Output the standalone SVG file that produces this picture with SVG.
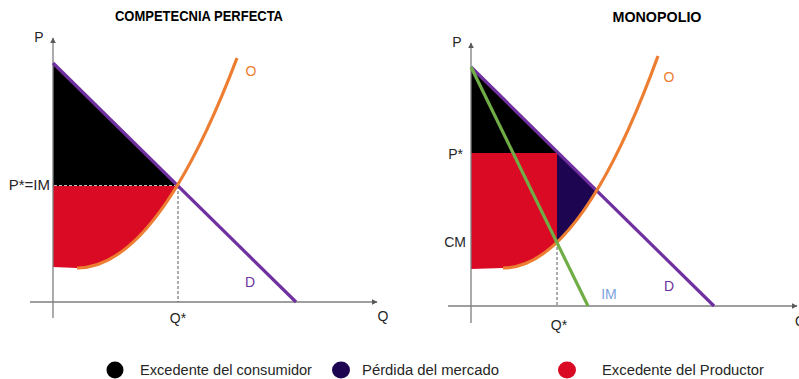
<svg xmlns="http://www.w3.org/2000/svg" width="799" height="379" viewBox="0 0 799 379">
<style>
text{font-family:"Liberation Sans",Arial,sans-serif;fill:#262626;font-size:14px}
.title{font-weight:bold;font-size:14px;fill:#000}
.axis{stroke:#7F7F7F;stroke-width:1.3;fill:none}
.dem{stroke:#7030A0;stroke-width:3.2;fill:none;stroke-linecap:butt}
.sup{stroke:#ED7D31;stroke-width:3.2;fill:none}
.img{stroke:#70AD47;stroke-width:3.2;fill:none}
.cs{fill:#000}
.ps{fill:#DA0A25}
.dw{fill:#1E0552}
.dash{stroke:#595959;stroke-width:1;stroke-dasharray:3 2;fill:none}
.dashl{stroke:#BFBFBF;stroke-width:1;stroke-dasharray:3 2;fill:none}
</style>
<defs>
<marker id="arr" viewBox="0 0 10 10" refX="9" refY="5" markerWidth="6" markerHeight="6" orient="auto" markerUnits="userSpaceOnUse">
<path d="M0,0 L10,5 L0,10 Z" fill="#595959"/>
</marker>
</defs>
<rect width="799" height="379" fill="#fff"/>

<g id="left-chart">
<text class="title" x="199" y="21" text-anchor="middle" textLength="168" lengthAdjust="spacingAndGlyphs">COMPETECNIA PERFECTA</text>
<g id="left-areas">
<path class="cs" d="M53,63 L178,186 L53,186 Z"/>
<path class="ps" d="M53,186 L53,267 L77,268 Q127.5,268 178,186 Z"/>
</g>
<g id="left-axes">
<line class="axis" x1="53" y1="318" x2="53" y2="38" marker-end="url(#arr)"/>
<line class="axis" x1="30" y1="302" x2="377" y2="302" marker-end="url(#arr)"/>
</g>
<g id="left-connectors">
<line class="dashl" x1="54" y1="185.5" x2="178" y2="185.5"/>
<line class="dash" x1="178" y1="186" x2="178" y2="302"/>
<path id="left-demand" class="dem" d="M53,63 L296,302"/>
<path id="left-supply" class="sup" d="M77,268 Q157,268 237,58"/>
</g>
<g id="left-labels">
<text x="39" y="42" text-anchor="middle">P</text>
<text x="50" y="190" text-anchor="end" style="font-size:15px">P*=IM</text>
<text x="178" y="323" text-anchor="middle">Q*</text>
<text x="383" y="321" text-anchor="middle">Q</text>
<text x="251" y="76" text-anchor="middle" style="fill:#ED7D31">O</text>
<text x="250" y="287" text-anchor="middle" style="fill:#7030A0">D</text>
</g>
</g>

<g id="right-chart">
<text class="title" x="657" y="22" text-anchor="middle" textLength="89" lengthAdjust="spacingAndGlyphs">MONOPOLIO</text>
<g id="right-areas">
<path class="cs" d="M471,67 L557,152 L557,153 L471,153 Z"/>
<path class="ps" d="M471,153 L557,153 L557,242.3 Q530,268 503,268 L471,269 Z"/>
<path class="dw" d="M557,152 L557,242.3 Q577,223.2 597,190.5 Z"/>
</g>
<g id="right-axes">
<line class="axis" x1="471" y1="323" x2="471" y2="43" marker-end="url(#arr)"/>
<line class="axis" x1="448" y1="306" x2="797" y2="306" marker-end="url(#arr)"/>
</g>
<g id="right-connectors">
<line class="dash" x1="557" y1="242" x2="557" y2="306"/>
<path id="right-demand" class="dem" d="M471,67 L714,306"/>
<path id="right-supply" class="sup" d="M503,268 Q580.5,268 658,56"/>
<path id="right-im" class="img" d="M471,67 L588,306"/>
</g>
<g id="right-labels">
<text x="457" y="47" text-anchor="middle">P</text>
<text x="463" y="159" text-anchor="end">P*</text>
<text x="466" y="247" text-anchor="end">CM</text>
<text x="559" y="330" text-anchor="middle">Q*</text>
<text x="795" y="326">Q</text>
<text x="669" y="82" text-anchor="middle" style="fill:#ED7D31">O</text>
<text x="669" y="291" text-anchor="middle" style="fill:#7030A0">D</text>
<text x="609" y="299" text-anchor="middle" style="fill:#7BA3E0">IM</text>
</g>
</g>

<g id="legend">
<g id="legend-cs">
<ellipse cx="115" cy="370" rx="8.5" ry="8.5" fill="#000"/>
<text x="140" y="375" textLength="172" lengthAdjust="spacingAndGlyphs">Excedente del consumidor</text>
</g>
<g id="legend-dw">
<ellipse cx="341" cy="370" rx="9" ry="8.5" fill="#1E0552"/>
<text x="362" y="375" textLength="137" lengthAdjust="spacingAndGlyphs">Pérdida del mercado</text>
</g>
<g id="legend-ps">
<ellipse cx="567" cy="370" rx="9" ry="8.5" fill="#DA0A25"/>
<text x="602" y="375" textLength="162" lengthAdjust="spacingAndGlyphs">Excedente del Productor</text>
</g>
</g>
</svg>
